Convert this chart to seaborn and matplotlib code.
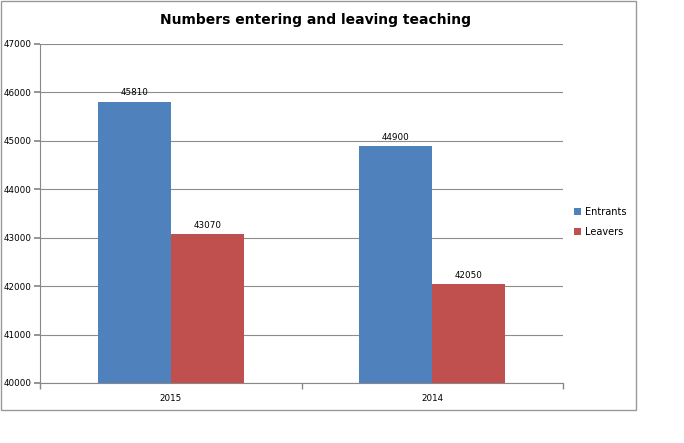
import matplotlib
matplotlib.use("Agg")
import matplotlib.pyplot as plt
import seaborn as sns
import pandas as pd
from matplotlib.patches import Rectangle

years = ["2015", "2014"]
series = ["Entrants", "Leavers"]
entrants = [45810, 44900]
leavers = [43070, 42050]
yticks = [40000, 41000, 42000, 43000, 44000, 45000, 46000, 47000]

df = pd.DataFrame({
    "Year": years * 2,
    "Series": [series[0]] * 2 + [series[1]] * 2,
    "Value": entrants + leavers,
})

sns.set_theme(style="white")
plt.rcParams["font.family"] = ["DejaVu Sans"]
plt.rcParams["text.color"] = "black"
plt.rcParams["xtick.color"] = "black"
plt.rcParams["ytick.color"] = "black"

fig = plt.figure(figsize=(6.84, 4.43), dpi=100)
ax = fig.add_axes([40/684, 1 - 383/443, (563-40)/684, (383-44)/443])

palette = {"Entrants": "#4F81BD", "Leavers": "#C0504D"}
sns.barplot(data=df, x="Year", y="Value", hue="Series", order=years,
            hue_order=series, palette=palette, width=0.56, ax=ax,
            saturation=1, errorbar=None, legend=True, linewidth=0)

ax.set_ylim(40000, 47000)
ax.set_xlim(-0.5, 1.5)
ax.set_yticks(yticks)
ax.set_yticklabels([str(t) for t in yticks], fontsize=6.3)
ax.set_xticks([0, 1])
ax.set_xticklabels(years, fontsize=6.3)
ax.tick_params(axis="x", length=0, pad=8)
ax.set_xticks([-0.5, 0.5, 1.5], minor=True)
ax.tick_params(axis="x", which="minor", length=4, color="#888888", direction="out", bottom=True)
ax.tick_params(axis="y", length=4, color="#888888", direction="out", left=True, pad=2)
ax.yaxis.grid(True, color="#8c8c8c", linewidth=0.8)
ax.set_axisbelow(True)
for s in ["top", "right"]:
    ax.spines[s].set_visible(False)
for s in ["left", "bottom"]:
    ax.spines[s].set_color("#888888")
    ax.spines[s].set_linewidth(0.8)
ax.set_xlabel("")
ax.set_ylabel("")

for c in ax.containers:
    ax.bar_label(c, labels=[f"{int(v.get_height())}" for v in c], fontsize=6.3, padding=3)

leg = ax.legend(loc="center left", bbox_to_anchor=(1.005, 0.475), frameon=False,
                fontsize=7, handlelength=0.7, handleheight=0.7, handletextpad=0.4,
                labelspacing=1.0)

fig.text(316/684, 1 - 20/443, "Numbers entering and leaving teaching",
         ha="center", va="center", fontsize=10, fontweight="bold", color="black")

fig.patches.append(Rectangle((1/684, 1 - 410/443), (636-1)/684, (410-1)/443,
                             transform=fig.transFigure, fill=False,
                             edgecolor="#999999", linewidth=1))

fig.savefig("out.png", dpi=100, facecolor="white")
